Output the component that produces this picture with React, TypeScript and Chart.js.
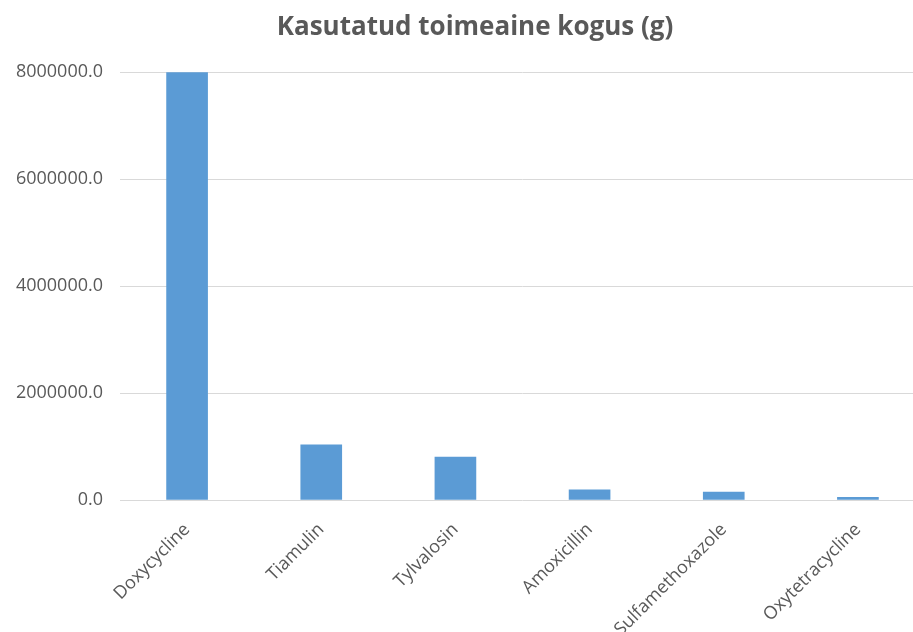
import React, { useEffect, useRef } from "react";
import { Chart, registerables } from "chart.js";

Chart.register(...registerables);

const title = "Kasutatud toimeaine kogus (g)";
const categories = ["Doxycycline", "Tiamulin", "Tylvalosin", "Amoxicillin", "Sulfamethoxazole", "Oxytetracycline"];
const values = [7990000, 1030000, 800000, 190000, 150000, 50000];
const yTicks = [0, 2000000, 4000000, 6000000, 8000000];

const TEXT = "#595959";
const FONT = "'Open Sans', sans-serif";
const CHART_W = 950;

export default function App() {
  const ref = useRef<HTMLCanvasElement | null>(null);
  useEffect(() => {
    if (!ref.current) return;
    const chart = new Chart(ref.current, {
      type: "bar",
      data: {
        labels: categories,
        datasets: [
          {
            data: values,
            backgroundColor: "#5B9BD5",
            borderWidth: 0,
            barThickness: 41,
            yAxisID: "y",
          },
        ],
      },
      options: {
        animation: false,
        responsive: false,
        maintainAspectRatio: false,
        layout: { padding: 0 },
        plugins: {
          legend: { display: false },
          tooltip: { enabled: false },
          title: {
            display: true,
            text: title,
            color: TEXT,
            font: { family: FONT, size: 26, weight: "bold" },
            padding: { top: 12.4, bottom: 28.4 },
          },
        },
        scales: {
          x: {
            type: "category",
            offset: true,
            grid: { display: false, drawTicks: false },
            border: { display: false },
            afterFit: (scale: any) => {
              scale.height = 132;
              scale.paddingLeft = 0;
              scale.paddingRight = 0;
            },
            ticks: {
              autoSkip: false,
              maxRotation: 45,
              minRotation: 45,
              padding: 19,
              color: TEXT,
              font: { family: FONT, size: 18 },
            },
          },
          y: {
            position: "left",
            min: 0,
            max: 8000000,
            grid: { color: "#D9D9D9", lineWidth: 1, drawTicks: false },
            border: { display: false },
            afterBuildTicks: (scale: any) => {
              scale.ticks = yTicks.map((v) => ({ value: v }));
            },
            afterFit: (scale: any) => {
              scale.width = 120;
            },
            ticks: {
              padding: 17,
              color: TEXT,
              font: { family: FONT, size: 18 },
              callback: (v: any) => Number(v).toFixed(1),
            },
          },
          yRight: {
            position: "right",
            min: 0,
            max: 8000000,
            grid: { display: false, drawTicks: false },
            border: { display: false },
            ticks: { display: false },
            afterFit: (scale: any) => {
              scale.width = 25;
            },
          },
        },
      },
    });
    return () => chart.destroy();
  }, []);
  return (
    <div style={{ position: "fixed", left: 0, top: 0, width: 913, height: 632, overflow: "hidden", background: "#fff" }}>
      <canvas ref={ref} width={CHART_W} height={632} style={{ width: CHART_W, height: 632, display: "block" }} />
    </div>
  );
}
